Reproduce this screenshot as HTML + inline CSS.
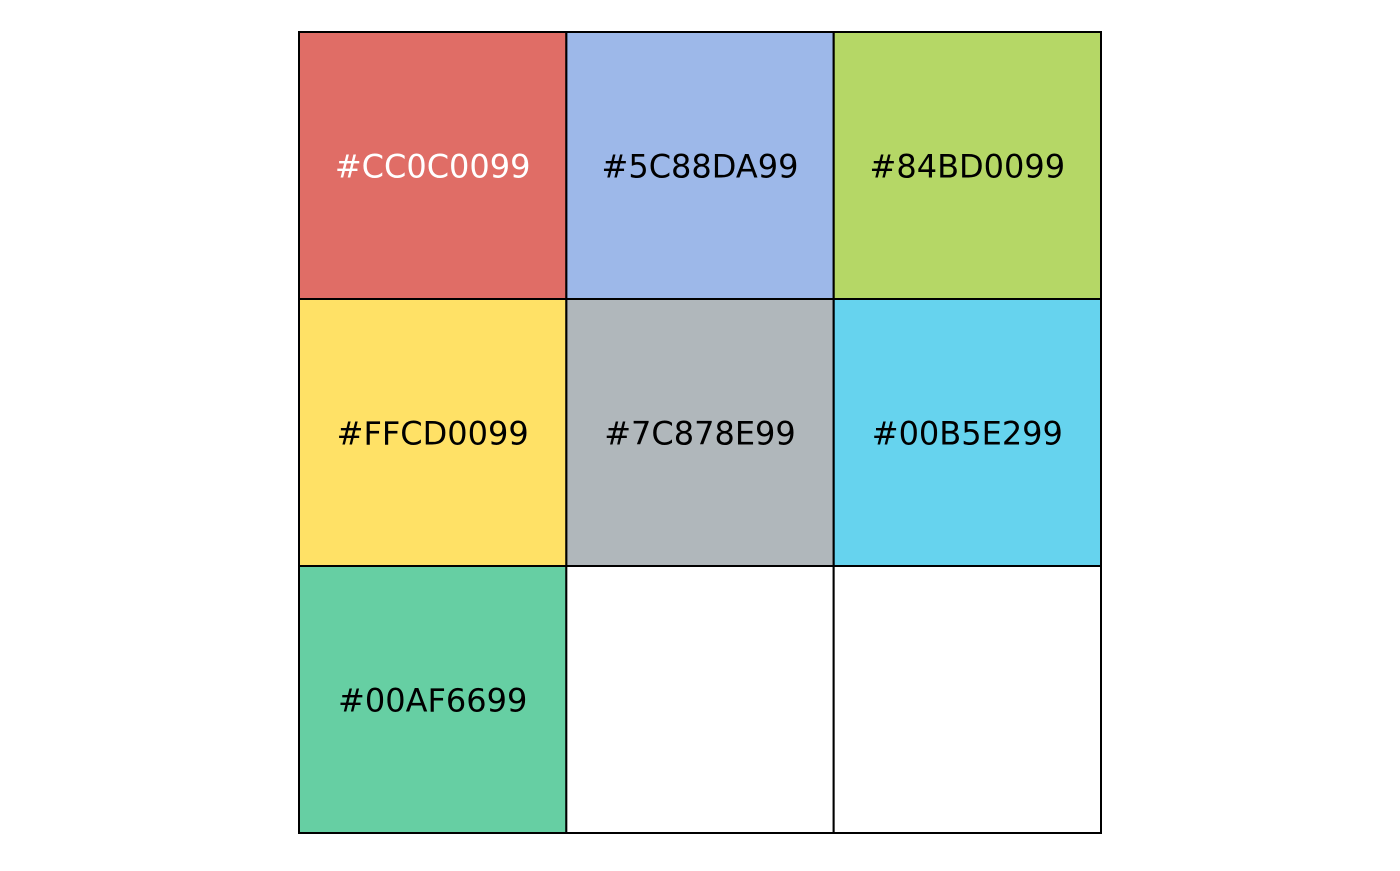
<!DOCTYPE html>
<html>
<head>
<meta charset="utf-8">
<style>
  html, body { margin: 0; padding: 0; background: #fff; }
  body { width: 1400px; height: 866px; overflow: hidden; }
  svg text { font-family: "DejaVu Sans", "Liberation Sans", sans-serif; }
</style>
</head>
<body>
<svg id="chart" width="1400" height="866" xmlns="http://www.w3.org/2000/svg"></svg>
<script>
const colorLabels = ["#CC0C0099", "#5C88DA99", "#84BD0099", "#FFCD0099", "#7C878E99", "#00B5E299", "#00AF6699"];
const baseColors = ["#CC0C00", "#5C88DA", "#84BD00", "#FFCD00", "#7C878E", "#00B5E2", "#00AF66"];
const alphas = [0.6, 0.6, 0.6, 0.6, 0.6, 0.6, 0.6];
const textColors = ["#ffffff", "#000000", "#000000", "#000000", "#000000", "#000000", "#000000"];
const nCols = 3, nRows = 3;

const svg = document.getElementById('chart');
const NS = 'http://www.w3.org/2000/svg';
const x0 = 299, y0 = 32, x1 = 1101, y1 = 833;
const cw = (x1 - x0) / nCols, ch = (y1 - y0) / nRows;
function xPos(col) { return x0 + col * cw; }
function yPos(row) { return y0 + row * ch; }

for (let i = 0; i < nCols * nRows; i++) {
  const col = i % nCols, row = Math.floor(i / nCols);
  const r = document.createElementNS(NS, 'rect');
  r.setAttribute('x', xPos(col));
  r.setAttribute('y', yPos(row));
  r.setAttribute('width', cw);
  r.setAttribute('height', ch);
  if (i < colorLabels.length) {
    r.setAttribute('fill', baseColors[i]);
    r.setAttribute('fill-opacity', alphas[i]);
  } else {
    r.setAttribute('fill', '#ffffff');
  }
  r.setAttribute('stroke', '#000');
  r.setAttribute('stroke-width', '2');
  
  
  svg.appendChild(r);
  if (i < colorLabels.length) {
    const t = document.createElementNS(NS, 'text');
    t.setAttribute('x', xPos(col) + cw / 2);
    t.setAttribute('y', yPos(row) + ch / 2 + 12);
    t.setAttribute('text-anchor', 'middle');
    t.setAttribute('font-size', '32');
    t.setAttribute('fill', textColors[i]);
    t.textContent = colorLabels[i];
    
    
    svg.appendChild(t);
  }
}
</script>
</body>
</html>
